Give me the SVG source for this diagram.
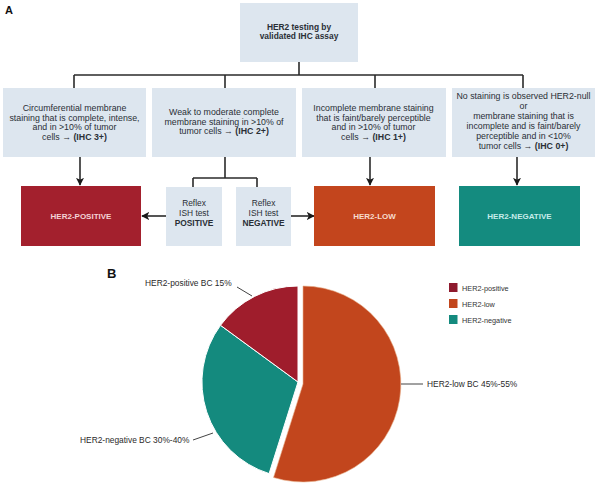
<svg xmlns="http://www.w3.org/2000/svg" width="600" height="494" viewBox="0 0 600 494">
<defs>
<style>
.box{fill:#dde6ef;}
.t{font-family:"Liberation Sans",Arial,sans-serif;font-size:8.8px;fill:#2a2f36;text-anchor:middle;}
.b{font-weight:bold;}
.tb{font-family:"Liberation Sans",Arial,sans-serif;font-size:8.4px;font-weight:bold;fill:#2a2f36;text-anchor:middle;}
.rf{font-family:"Liberation Sans",Arial,sans-serif;font-size:8.4px;fill:#2a2f36;text-anchor:middle;}
.ct{font-family:"Liberation Sans",Arial,sans-serif;font-size:8px;font-weight:bold;text-anchor:middle;}
.ln{fill:none;stroke:#2b2b2b;stroke-width:1.6;}
.lead{fill:none;stroke:#444;stroke-width:1;}
.pl{font-family:"Liberation Sans",Arial,sans-serif;font-size:8.4px;fill:#2a2a2a;}
.lg{font-family:"Liberation Sans",Arial,sans-serif;font-size:7.3px;fill:#333;}
.hd{font-family:"Liberation Sans",Arial,sans-serif;font-weight:bold;fill:#111;}
</style>
<marker id="ah" viewBox="0 0 10 10" refX="9" refY="5" markerWidth="5" markerHeight="5" orient="auto" markerUnits="strokeWidth">
<path d="M0,0 L10,5 L0,10 L2.5,5 Z" fill="#1a1a1a"/>
</marker>
</defs>
<rect width="600" height="494" fill="#ffffff"/>
<text class="hd" x="5" y="14" font-size="11">A</text>
<text class="hd" x="107" y="278" font-size="13">B</text>

<g id="connectors">
<path class="ln" d="M299,62 V75 M74,75 H523 M74,75 V88 M225,75 V88 M375,75 V88 M523,75 V88"/>
<path class="ln" d="M80,157 V185" marker-end="url(#ah)"/>
<path class="ln" d="M225,157 V178 M193,178 H257 M193,178 V187 M257,178 V187"/>
<path class="ln" d="M166,216 H142" marker-end="url(#ah)"/>
<path class="ln" d="M291,216 H314" marker-end="url(#ah)"/>
<path class="ln" d="M370,157 V185" marker-end="url(#ah)"/>
<path class="ln" d="M517,157 V185" marker-end="url(#ah)"/>
</g>

<g id="top">
<rect class="box" x="240" y="3" width="118" height="59"/>
<text class="tb" x="299" y="29.5">HER2 testing by</text>
<text class="tb" x="299" y="39">validated IHC assay</text>
</g>

<g id="ihc3">
<rect class="box" x="3" y="88" width="143" height="69"/>
<text class="t" x="74.5" y="111">Circumferential membrane</text>
<text class="t" x="74.5" y="120.5">staining that is complete, intense,</text>
<text class="t" x="74.5" y="130">and in &gt;10% of tumor</text>
<text class="t" x="74.5" y="139.5">cells → <tspan class="b">(IHC 3+)</tspan></text>
</g>

<g id="ihc2">
<rect class="box" x="152" y="88" width="144" height="69"/>
<text class="t" x="224" y="115">Weak to moderate complete</text>
<text class="t" x="224" y="124.5">membrane staining in &gt;10% of</text>
<text class="t" x="224" y="134">tumor cells → <tspan class="b">(IHC 2+)</tspan></text>
</g>

<g id="ihc1">
<rect class="box" x="302" y="88" width="144" height="69"/>
<text class="t" x="373.5" y="111">Incomplete membrane staining</text>
<text class="t" x="373.5" y="120.5">that is faint/barely perceptible</text>
<text class="t" x="373.5" y="130">and in &gt;10% of tumor</text>
<text class="t" x="373.5" y="139.5">cells → <tspan class="b">(IHC 1+)</tspan></text>
</g>

<g id="ihc0">
<rect class="box" x="452" y="88" width="143" height="69"/>
<text class="t" x="523.5" y="99">No staining is observed HER2-null</text>
<text class="t" x="523.5" y="109">or</text>
<text class="t" x="523.5" y="119">membrane staining that is</text>
<text class="t" x="523.5" y="129">incomplete and is faint/barely</text>
<text class="t" x="523.5" y="139">perceptible and in &lt;10%</text>
<text class="t" x="523.5" y="149">tumor cells → <tspan class="b">(IHC 0+)</tspan></text>
</g>

<g id="reflexPos">
<rect class="box" x="166" y="187" width="56" height="59"/>
<text class="rf" x="194" y="205.5">Reflex</text>
<text class="rf" x="194" y="215.5">ISH test</text>
<text class="rf b" x="194" y="226">POSITIVE</text>
</g>

<g id="reflexNeg">
<rect class="box" x="236" y="187" width="55" height="59"/>
<text class="rf" x="263.5" y="205.5">Reflex</text>
<text class="rf" x="263.5" y="215.5">ISH test</text>
<text class="rf b" x="263.5" y="226">NEGATIVE</text>
</g>

<g id="her2pos">
<rect x="21" y="186" width="120" height="60" fill="#a3202d"/>
<text class="ct" x="81" y="219" fill="#f4d3d6">HER2-POSITIVE</text>
</g>

<g id="her2low">
<rect x="314" y="186" width="121" height="60" fill="#c3451d"/>
<text class="ct" x="374.5" y="219" fill="#f7dccd">HER2-LOW</text>
</g>

<g id="her2neg">
<rect x="459" y="186" width="121" height="60" fill="#148b7f"/>
<text class="ct" x="519.5" y="219" fill="#c6ecea">HER2-NEGATIVE</text>
</g>

<g id="pie">
<path d="M303,384 L303,286 A98,98 0 1 1 273.5,477.5 Z" fill="#c2461d" stroke="#e9b48f" stroke-width="0.6"/>
<path d="M298,382 L269.1,473.6 A96,96 0 0 1 220.5,325.3 Z" fill="#148a7e" stroke="#ffffff" stroke-width="1"/>
<path d="M298,382 L220.5,325.3 A96,96 0 0 1 298,286 Z" fill="#9f1d2c" stroke="#ffffff" stroke-width="1"/>
</g>

<g id="pieLabels">
<path class="lead" d="M237,287 L252,296"/>
<text class="pl" x="145" y="286">HER2-positive BC 15%</text>
<path class="lead" d="M193,440 L213,433"/>
<text class="pl" x="80" y="443">HER2-negative BC 30%-40%</text>
<path class="lead" d="M401,384 L423,384"/>
<text class="pl" x="427" y="387">HER2-low BC 45%-55%</text>
</g>

<g id="legend">
<rect x="449" y="283" width="8.5" height="9" fill="#8e1a2e"/>
<text class="lg" x="462" y="290.5">HER2-positive</text>
<rect x="449" y="299" width="8.5" height="9" fill="#c2461d"/>
<text class="lg" x="462" y="306.5">HER2-low</text>
<rect x="449" y="315" width="8.5" height="9" fill="#148a7e"/>
<text class="lg" x="462" y="322.5">HER2-negative</text>
</g>
</svg>
